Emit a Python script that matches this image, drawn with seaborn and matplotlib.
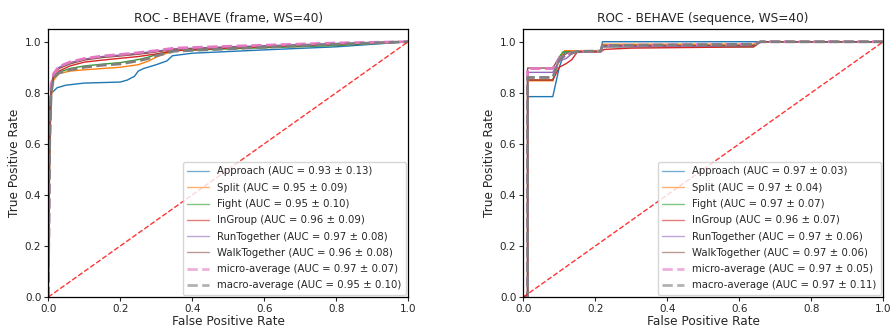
import numpy as np
import matplotlib
matplotlib.use('Agg')
import matplotlib.pyplot as plt
import seaborn as sns

# Class names and AUC summaries
classes = ['Approach', 'Split', 'Fight', 'InGroup', 'RunTogether', 'WalkTogether']
frame_auc = ['0.93 ± 0.13', '0.95 ± 0.09', '0.95 ± 0.10', '0.96 ± 0.09', '0.97 ± 0.08', '0.96 ± 0.08']
frame_micro_auc = '0.97 ± 0.07'
frame_macro_auc = '0.95 ± 0.10'
seq_auc = ['0.97 ± 0.03', '0.97 ± 0.04', '0.97 ± 0.07', '0.96 ± 0.07', '0.97 ± 0.06', '0.97 ± 0.06']
seq_micro_auc = '0.97 ± 0.05'
seq_macro_auc = '0.97 ± 0.11'

# ---- frame-level ROC curves ----
fr_fpr_approach = [0, 0.003, 0.01, 0.025, 0.05, 0.1, 0.2, 0.22, 0.24, 0.25, 0.265, 0.3, 0.33, 0.345, 0.4, 0.6, 0.8, 1.0]
fr_tpr_approach = [0, 0.75, 0.80, 0.82, 0.83, 0.838, 0.842, 0.85, 0.865, 0.885, 0.895, 0.91, 0.925, 0.945, 0.955, 0.968, 0.98, 1.0]

fr_fpr = [0, 0.004, 0.008, 0.015, 0.03, 0.06, 0.1, 0.15, 0.2, 0.25, 0.28, 0.3, 0.35, 0.5, 0.8, 1.0]
fr_tpr_split = [0, 0.55, 0.78, 0.85, 0.875, 0.885, 0.89, 0.895, 0.9, 0.91, 0.925, 0.94, 0.965, 0.975, 0.988, 1.0]
fr_tpr_fight = [0, 0.58, 0.80, 0.86, 0.88, 0.895, 0.905, 0.912, 0.918, 0.93, 0.94, 0.95, 0.965, 0.972, 0.985, 1.0]
fr_tpr_ingroup = [0, 0.60, 0.80, 0.86, 0.885, 0.905, 0.92, 0.928, 0.935, 0.942, 0.948, 0.952, 0.965, 0.975, 0.99, 1.0]
fr_tpr_run = [0, 0.65, 0.83, 0.875, 0.90, 0.918, 0.932, 0.942, 0.948, 0.955, 0.96, 0.963, 0.972, 0.98, 0.993, 1.0]
fr_tpr_walk = [0, 0.62, 0.82, 0.87, 0.895, 0.913, 0.928, 0.938, 0.944, 0.951, 0.956, 0.96, 0.97, 0.978, 0.99, 1.0]
fr_tpr_micro = [0, 0.63, 0.83, 0.875, 0.903, 0.92, 0.934, 0.944, 0.95, 0.957, 0.962, 0.965, 0.975, 0.982, 0.995, 1.0]
fr_tpr_macro = [0, 0.60, 0.80, 0.86, 0.878, 0.89, 0.90, 0.908, 0.913, 0.925, 0.935, 0.945, 0.963, 0.972, 0.99, 1.0]

# ---- sequence-level ROC curves ----
sq_fpr_approach = [0, 0.012, 0.012, 0.082, 0.1, 0.115, 0.215, 0.22, 1.0]
sq_tpr_approach = [0, 0, 0.785, 0.785, 0.90, 0.96, 0.965, 1.0, 1.0]
sq_fpr_split = [0, 0.012, 0.012, 0.082, 0.1, 0.115, 0.215, 0.22, 0.64, 0.66, 1.0]
sq_tpr_split = [0, 0, 0.847, 0.847, 0.93, 0.965, 0.965, 0.99, 0.99, 1.0, 1.0]
sq_fpr_fight = [0, 0.012, 0.012, 0.082, 0.1, 0.11, 0.215, 0.22, 0.64, 0.66, 1.0]
sq_tpr_fight = [0, 0, 0.85, 0.85, 0.94, 0.96, 0.962, 0.98, 0.98, 1.0, 1.0]
sq_fpr_ingroup = [0, 0.012, 0.012, 0.082, 0.1, 0.12, 0.135, 0.15, 0.215, 0.225, 0.3, 0.64, 0.66, 1.0]
sq_tpr_ingroup = [0, 0, 0.85, 0.85, 0.90, 0.915, 0.93, 0.96, 0.96, 0.97, 0.975, 0.98, 1.0, 1.0]
sq_fpr_run = [0, 0.012, 0.012, 0.082, 0.1, 0.12, 0.14, 0.215, 0.22, 0.64, 0.66, 1.0]
sq_tpr_run = [0, 0, 0.88, 0.88, 0.925, 0.935, 0.96, 0.962, 0.98, 0.985, 1.0, 1.0]
sq_fpr_walk = [0, 0.012, 0.012, 0.082, 0.1, 0.13, 0.215, 0.22, 0.64, 0.66, 1.0]
sq_tpr_walk = [0, 0, 0.897, 0.897, 0.94, 0.96, 0.962, 0.985, 0.985, 1.0, 1.0]
sq_fpr_micro = [0, 0.012, 0.012, 0.082, 0.1, 0.13, 0.15, 0.215, 0.22, 0.64, 0.66, 1.0]
sq_tpr_micro = [0, 0, 0.895, 0.895, 0.935, 0.955, 0.962, 0.963, 0.985, 0.99, 1.0, 1.0]
sq_fpr_macro = [0, 0.012, 0.012, 0.082, 0.1, 0.115, 0.15, 0.215, 0.22, 0.64, 0.66, 1.0]
sq_tpr_macro = [0, 0, 0.86, 0.86, 0.93, 0.945, 0.962, 0.963, 0.985, 0.99, 1.0, 1.0]

colors = ['tab:blue', 'tab:orange', 'tab:green', 'tab:red', 'tab:purple', 'tab:brown']

sns.set_style('ticks')
plt.rcParams['font.family'] = ['DejaVu Sans']

fig, axes = plt.subplots(1, 2, figsize=(8.93, 3.29), dpi=100)
fig.subplots_adjust(left=0.054, right=0.989, bottom=0.097, top=0.912, wspace=0.32)


def draw_panel(ax, curves, auc_list, micro, macro, title):
    for (fpr, tpr), name, auc, c in zip(curves[:6], classes, auc_list, colors):
        sns.lineplot(x=fpr, y=tpr, ax=ax, color=c, lw=1, sort=False, estimator=None,
                     label=f'{name} (AUC = {auc})')
    fpr, tpr = curves[6]
    sns.lineplot(x=fpr, y=tpr, ax=ax, color='tab:pink', lw=2, linestyle='--', sort=False,
                 estimator=None, label=f'micro-average (AUC = {micro})')
    fpr, tpr = curves[7]
    sns.lineplot(x=fpr, y=tpr, ax=ax, color='tab:gray', lw=2, linestyle='--', sort=False,
                 estimator=None, label=f'macro-average (AUC = {macro})')
    ax.plot([0, 1], [0, 1], 'r--', lw=1, alpha=0.8)
    ax.set_xlim(0, 1)
    ax.set_ylim(0, 1.05)
    ax.set_xticks([0, 0.2, 0.4, 0.6, 0.8, 1.0])
    ax.set_yticks([0, 0.2, 0.4, 0.6, 0.8, 1.0])
    ax.tick_params(labelsize=7.5, length=3, pad=2)
    ax.set_xlabel('False Positive Rate', fontsize=8.7, labelpad=1)
    ax.set_ylabel('True Positive Rate', fontsize=8.7, labelpad=3)
    ax.set_title(title, fontsize=8.7, pad=5)
    for s in ax.spines.values():
        s.set_color('black')
        s.set_linewidth(0.9)
    leg = ax.legend(loc='lower right', fontsize=7.3, frameon=True, labelspacing=0.62,
                    handlelength=2.2, borderaxespad=0.25)
    for line in leg.get_lines():
        line.set_alpha(0.6)


frame_curves = [(fr_fpr_approach, fr_tpr_approach), (fr_fpr, fr_tpr_split), (fr_fpr, fr_tpr_fight),
                (fr_fpr, fr_tpr_ingroup), (fr_fpr, fr_tpr_run), (fr_fpr, fr_tpr_walk),
                (fr_fpr, fr_tpr_micro), (fr_fpr, fr_tpr_macro)]
seq_curves = [(sq_fpr_approach, sq_tpr_approach), (sq_fpr_split, sq_tpr_split), (sq_fpr_fight, sq_tpr_fight),
              (sq_fpr_ingroup, sq_tpr_ingroup), (sq_fpr_run, sq_tpr_run), (sq_fpr_walk, sq_tpr_walk),
              (sq_fpr_micro, sq_tpr_micro), (sq_fpr_macro, sq_tpr_macro)]

draw_panel(axes[0], frame_curves, frame_auc, frame_micro_auc, frame_macro_auc, 'ROC - BEHAVE (frame, WS=40)')
draw_panel(axes[1], seq_curves, seq_auc, seq_micro_auc, seq_macro_auc, 'ROC - BEHAVE (sequence, WS=40)')

plt.savefig('out.png', dpi=100)
